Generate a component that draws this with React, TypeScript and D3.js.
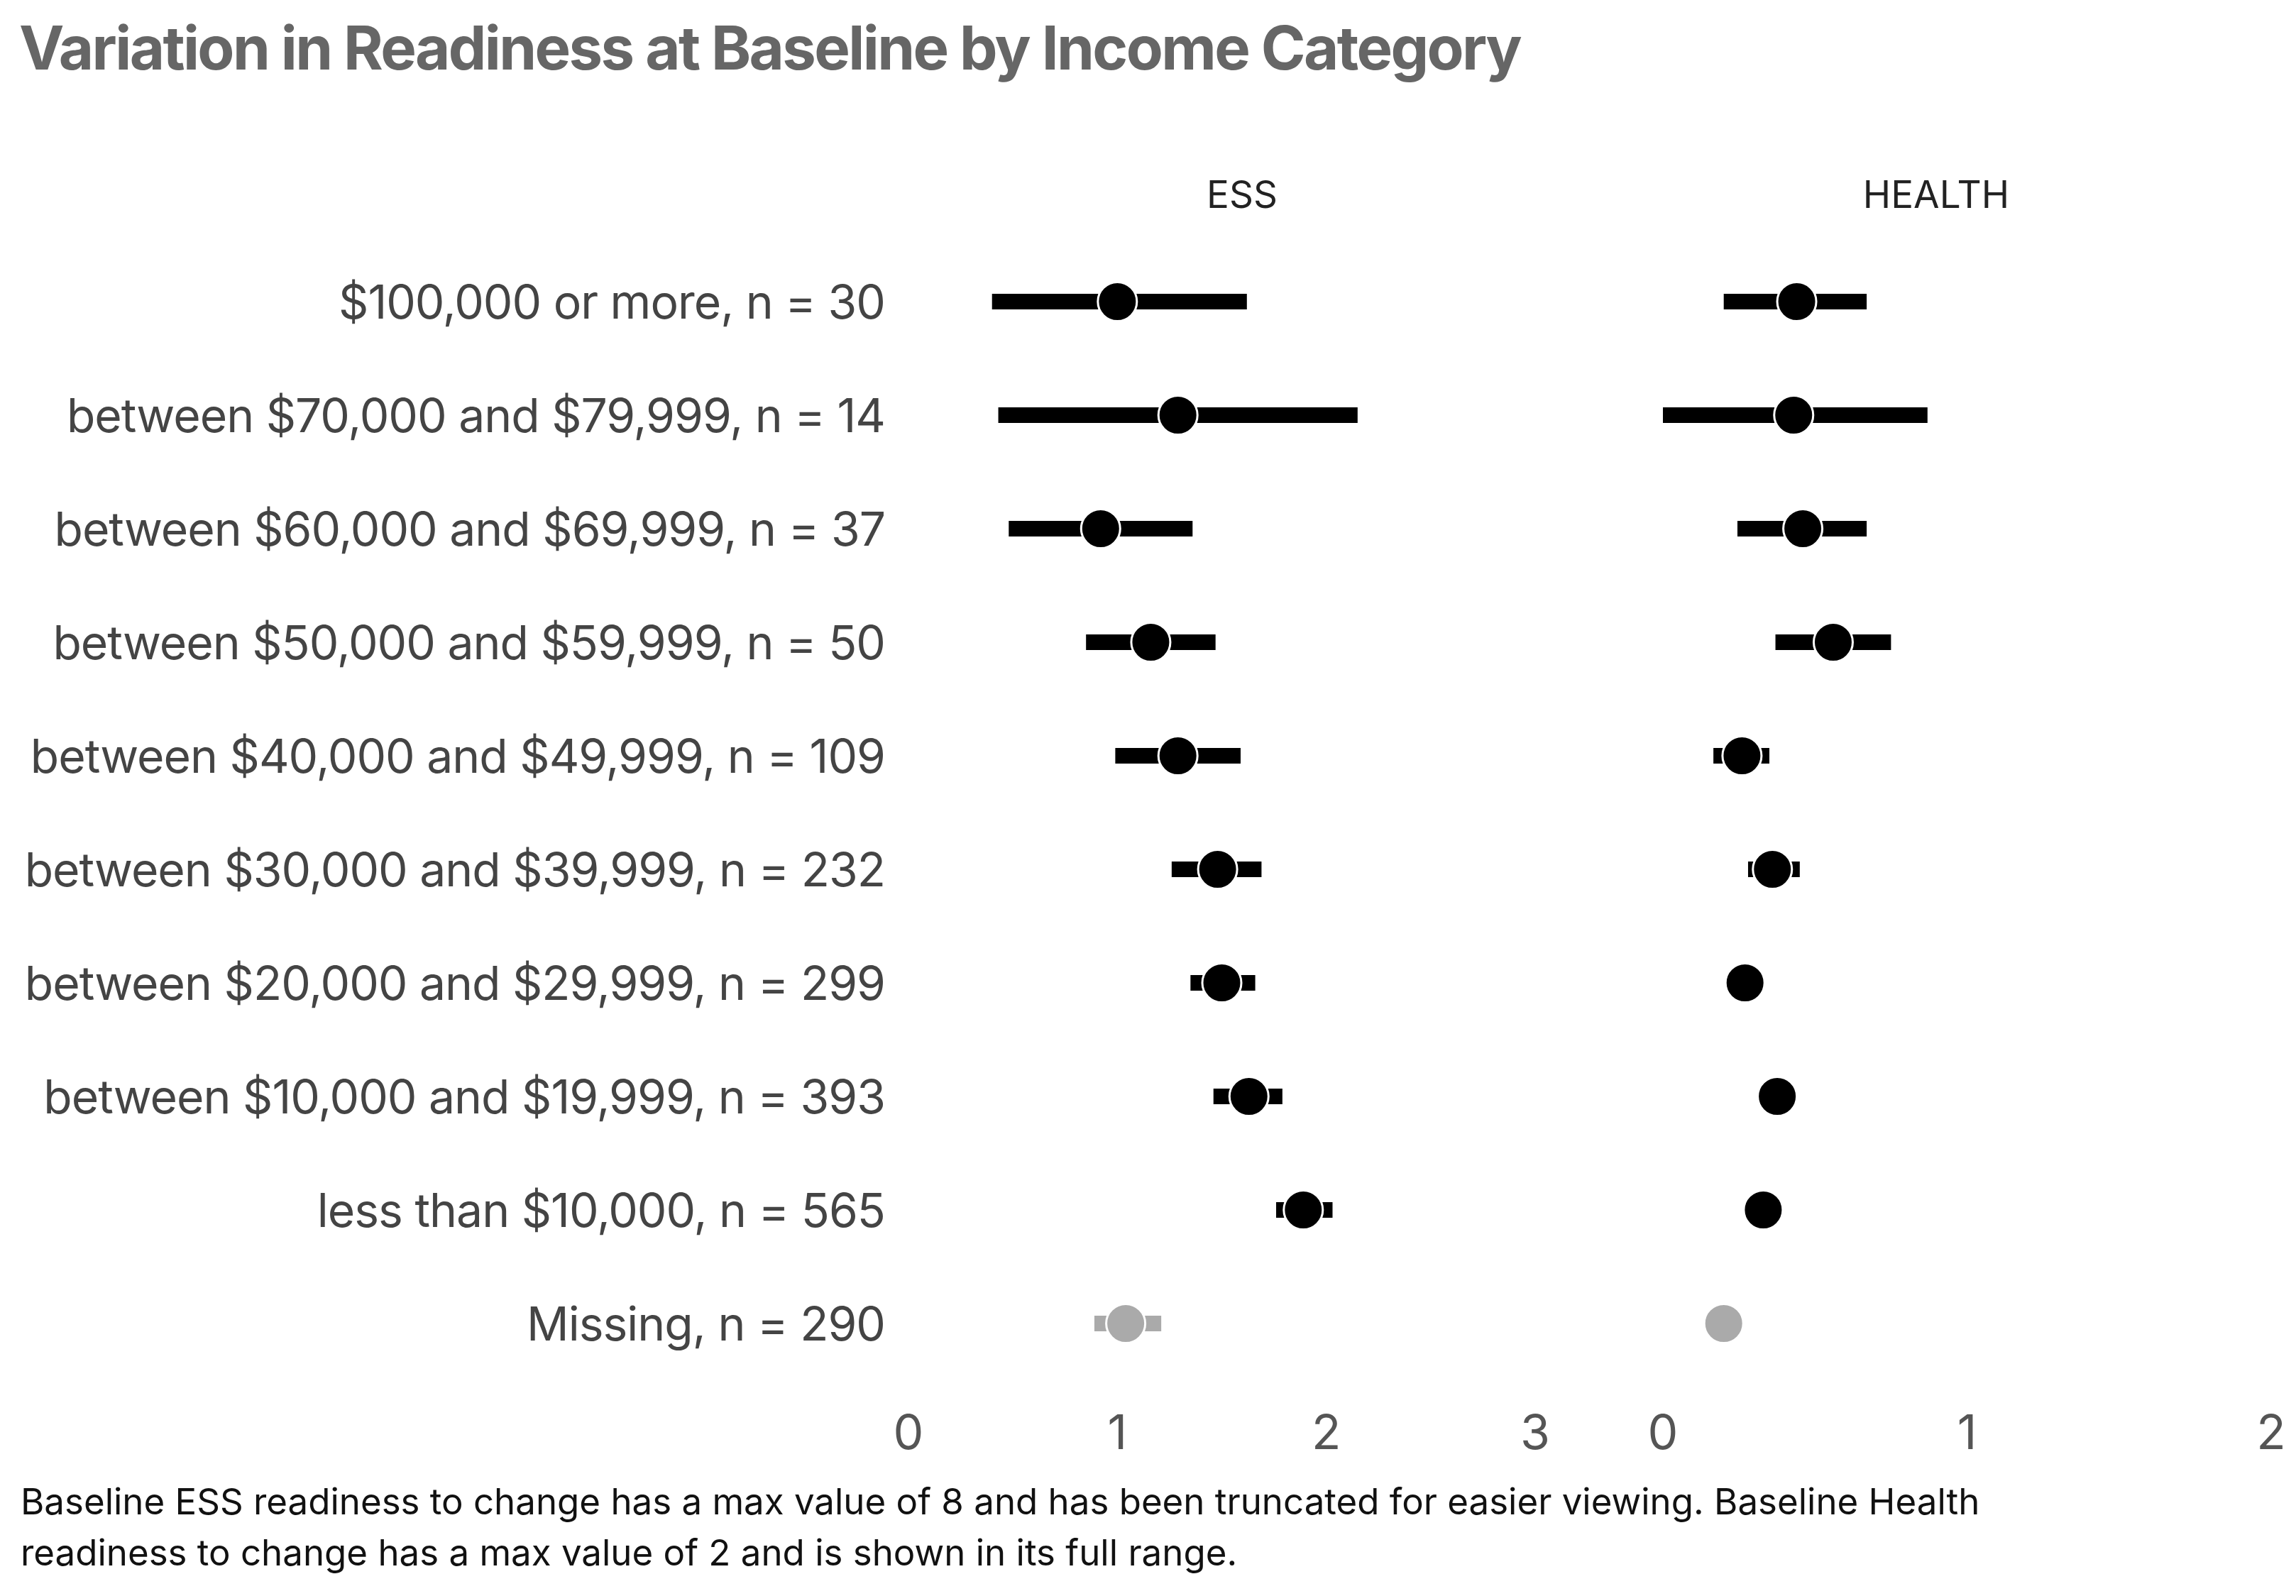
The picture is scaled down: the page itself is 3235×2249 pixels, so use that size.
import React from "react";
import * as d3 from "d3";

const categories = [
  "$100,000 or more, n = 30",
  "between $70,000 and $79,999, n = 14",
  "between $60,000 and $69,999, n = 37",
  "between $50,000 and $59,999, n = 50",
  "between $40,000 and $49,999, n = 109",
  "between $30,000 and $39,999, n = 232",
  "between $20,000 and $29,999, n = 299",
  "between $10,000 and $19,999, n = 393",
  "less than $10,000, n = 565",
  "Missing, n = 290",
];

const essMean = [1.0, 1.29, 0.92, 1.16, 1.29, 1.48, 1.5, 1.63, 1.89, 1.04];
const essLow = [0.4, 0.43, 0.48, 0.85, 0.99, 1.26, 1.35, 1.46, 1.76, 0.89];
const essHigh = [1.62, 2.15, 1.36, 1.47, 1.59, 1.69, 1.66, 1.79, 2.03, 1.21];

const healthMean = [0.44, 0.43, 0.46, 0.56, 0.26, 0.36, 0.27, 0.376, 0.33, 0.2];
const healthLow = [0.2, 0.0, 0.245, 0.37, 0.166, 0.28, 0.24, 0.34, 0.3, 0.17];
const healthHigh = [0.67, 0.87, 0.67, 0.75, 0.35, 0.45, 0.3, 0.41, 0.36, 0.23];

const essTicks = [0, 1, 2, 3];
const healthTicks = [0, 1, 2];

const title = "Variation in Readiness at Baseline by Income Category";
const captionLines = [
  "Baseline ESS readiness to change has a max value of 8 and has been truncated for easier viewing. Baseline Health",
  "readiness to change has a max value of 2 and is shown in its full range.",
];

const W = 3235;
const H = 2249;
const FONT = "Inter, 'Noto Sans', sans-serif";

export default function App() {
  const y = d3.scalePoint<string>().domain(categories).range([425, 1865]);
  const xEss = d3.scaleLinear().domain([0, 3]).range([1280, 2163]);
  const xHealth = d3.scaleLinear().domain([0, 2]).range([2343, 3200]);

  const panels = [
    { name: "ESS", x: xEss, mean: essMean, low: essLow, high: essHigh, ticks: essTicks, labelX: 1750 },
    { name: "HEALTH", x: xHealth, mean: healthMean, low: healthLow, high: healthHigh, ticks: healthTicks, labelX: 2728 },
  ];

  const colorFor = (c: string) => (c.startsWith("Missing") ? "#aaaaaa" : "#000000");

  return (
    <svg
      width={W}
      height={H}
      viewBox={`0 0 ${W} ${H}`}
      style={{ position: "absolute", left: 0, top: 0, background: "#fff" }}
      fontFamily={FONT}
    >
      <rect x={0} y={0} width={W} height={H} fill="#fff" />
      <text x={27} y={98} fontSize={85} fontWeight={700} fill="#666666" letterSpacing={-2.6}>
        {title}
      </text>

      {categories.map((c) => (
        <text
          key={c}
          x={1247}
          y={y(c)}
          dy="0.36em"
          textAnchor="end"
          fontSize={66}
          fill="#444444"
          letterSpacing={-1}
        >
          {c}
        </text>
      ))}

      {panels.map((p) => (
        <g key={p.name}>
          <text x={p.labelX} y={274} dy="0.36em" textAnchor="middle" fontSize={53} fill="#222222">
            {p.name}
          </text>
          {p.ticks.map((t) => (
            <text
              key={t}
              x={p.x(t)}
              y={2018}
              dy="0.36em"
              textAnchor="middle"
              fontSize={68}
              fill="#555555"
            >
              {t}
            </text>
          ))}
          {categories.map((c, i) => (
            <g key={c}>
              <line
                x1={p.x(p.low[i])}
                x2={p.x(p.high[i])}
                y1={y(c)}
                y2={y(c)}
                stroke={colorFor(c)}
                strokeWidth={22}
              />
              <circle
                cx={p.x(p.mean[i])}
                cy={y(c)}
                r={27.5}
                fill={colorFor(c)}
                stroke="#ffffff"
                strokeWidth={3}
              />
            </g>
          ))}
        </g>
      ))}

      {captionLines.map((l, i) => (
        <text key={i} x={29} y={2134 + i * 72} fontSize={51} fill="#111111">
          {l}
        </text>
      ))}
    </svg>
  );
}
